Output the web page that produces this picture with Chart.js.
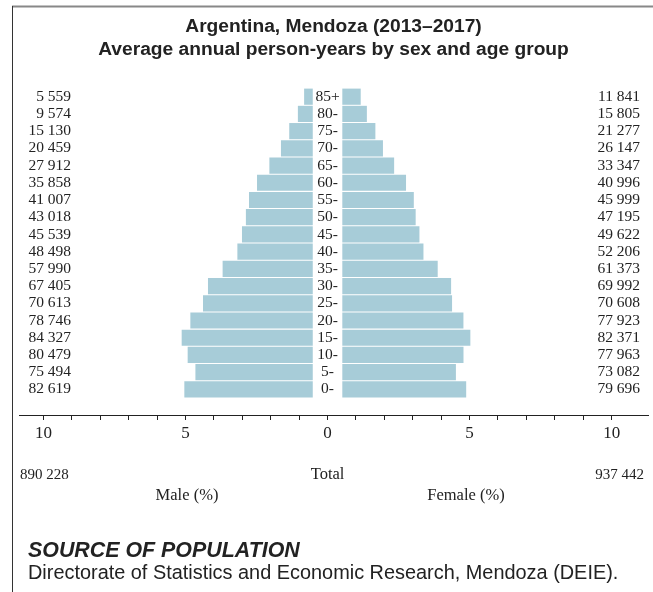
<!DOCTYPE html>
<html>
<head>
<meta charset="utf-8">
<script src="https://cdn.jsdelivr.net/npm/chart.js@4"></script>
<style>
  html, body { margin: 0; padding: 0; background: #fff; }
  canvas { display: block; }
</style>
</head>
<body>
<canvas id="pyramid" width="653" height="592"></canvas>
<script>
// Age groups, top of the pyramid first
const ageGroups = ['85+', '80-', '75-', '70-', '65-', '60-', '55-', '50-', '45-', '40-',
                   '35-', '30-', '25-', '20-', '15-', '10-', '5-', '0-'];

// Average annual person-years
const maleCounts = [5559, 9574, 15130, 20459, 27912, 35858, 41007, 43018, 45539, 48498,
                    57990, 67405, 70613, 78746, 84327, 80479, 75494, 82619];
const femaleCounts = [11841, 15805, 21277, 26147, 33347, 40996, 45999, 47195, 49622, 52206,
                      61373, 69992, 70608, 77923, 82371, 77963, 73082, 79696];

const maleTotal = 890228;
const femaleTotal = 937442;

// Axis tick labels (percent)
const tickValues = [-10, -5, 0, 5, 10];

// half of the gap left in the middle for the age labels, in axis units
const gap = 0.52;
const total = maleTotal + femaleTotal;

const malePct = maleCounts.map(v => v / total * 100);
const femalePct = femaleCounts.map(v => v / total * 100);

const barColor = '#a7ccd8';
const ink = '#222';
const serif = "'Liberation Serif', 'Times New Roman', serif";
const sans = "'Liberation Sans', Arial, sans-serif";

function fmt(n) {
    return String(n).replace(/\B(?=(\d{3})+(?!\d))/g, ' ');
}

// labels, frame and footer texts
const labelsPlugin = {
    id: 'pyramidLabels',
    afterDraw(chart) {
        const ctx = chart.ctx;
        const x = chart.scales.x;
        const y = chart.scales.y;
        ctx.save();

        // frame
        ctx.strokeStyle = '#888';
        ctx.lineWidth = 2;
        ctx.beginPath();
        ctx.moveTo(12, 6.5);
        ctx.lineTo(653, 6.5);
        ctx.stroke();
        ctx.strokeStyle = '#333';
        ctx.lineWidth = 1;
        ctx.beginPath();
        ctx.moveTo(12.5, 6);
        ctx.lineTo(12.5, 592);
        ctx.stroke();

        ctx.fillStyle = ink;
        ctx.textBaseline = 'middle';
        ctx.font = '15.5px ' + serif;
        const mid = x.getPixelForValue(0);
        ageGroups.forEach((g, i) => {
            const py = y.getPixelForValue(i);
            ctx.textAlign = 'right';
            ctx.fillText(fmt(maleCounts[i]), 71, py);
            ctx.fillText(fmt(femaleCounts[i]), 640, py);
            ctx.textAlign = 'center';
            ctx.fillText(g, mid, py);
        });

        // totals and axis titles
        ctx.font = '15px ' + serif;
        ctx.textAlign = 'left';
        ctx.fillText(fmt(maleTotal), 20, 475);
        ctx.textAlign = 'right';
        ctx.fillText(fmt(femaleTotal), 644, 475);
        ctx.font = '16.5px ' + serif;
        ctx.textAlign = 'center';
        ctx.fillText('Total', mid, 475);
        ctx.fillText('Male (%)', 187, 496);
        ctx.fillText('Female (%)', 466, 496);

        // source
        ctx.textAlign = 'left';
        ctx.font = 'italic bold 21.4px ' + sans;
        ctx.fillText('SOURCE OF POPULATION', 28, 551);
        ctx.font = '19.9px ' + sans;
        ctx.fillText('Directorate of Statistics and Economic Research, Mendoza (DEIE).', 28, 574);
        ctx.restore();
    }
};

new Chart(document.getElementById('pyramid'), {
    type: 'bar',
    data: {
        labels: ageGroups,
        datasets: [
            {
                label: 'Male (%)',
                data: malePct.map(v => [-gap - v, -gap]),
                backgroundColor: barColor,
                grouped: false
            },
            {
                label: 'Female (%)',
                data: femalePct.map(v => [gap, gap + v]),
                backgroundColor: barColor,
                grouped: false
            }
        ]
    },
    options: {
        indexAxis: 'y',
        responsive: false,
        animation: false,
        barPercentage: 1,
        categoryPercentage: 0.94,
        layout: { padding: { left: 19, right: 5, top: 0, bottom: 194 } },
        plugins: {
            legend: { display: false },
            tooltip: { enabled: false },
            title: {
                display: true,
                text: ['Argentina, Mendoza (2013\u20132017)', 'Average annual person-years by sex and age group'],
                color: ink,
                font: { family: sans, size: 19.2, weight: 'bold', lineHeight: 1.2 },
                padding: { top: 15, bottom: 27 }
            }
        },
        scales: {
            y: {
                type: 'category',
                display: false,
                offset: true
            },
            x: {
                type: 'linear',
                min: -10.86,
                max: 11.28,
                position: { y: 18.54 },
                border: { display: true, color: ink, width: 1 },
                grid: { drawOnChartArea: false, drawTicks: true, tickLength: 4, color: ink },
                afterBuildTicks: s => {
                    s.ticks = s.ticks.filter(t => Number.isInteger(t.value) && Math.abs(t.value) <= 10);
                },
                ticks: {
                    stepSize: 1,
                    includeBounds: false,
                    maxTicksLimit: 40,
                    autoSkip: false,
                    maxRotation: 0,
                    padding: 3,
                    color: ink,
                    font: { family: serif, size: 17 },
                    callback: v => tickValues.includes(v) ? String(Math.abs(v)) : ''
                }
            }
        }
    },
    plugins: [labelsPlugin]
});
</script>
</body>
</html>
